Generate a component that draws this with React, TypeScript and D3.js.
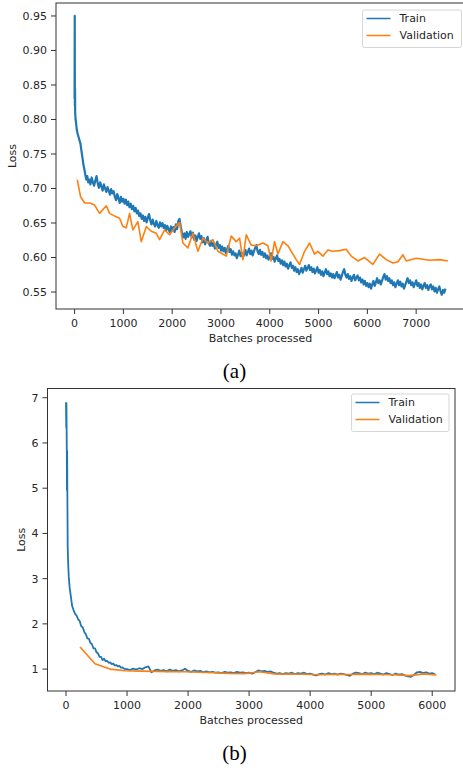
import React from 'react';
import * as d3 from 'd3';

const TRAIN_COLOR = '#1f77b4';
const VAL_COLOR = '#ff7f0e';
const FONT = 'DejaVu Sans, sans-serif';

// ---- panel (a) ----
// first few hundred batches, read point by point
const trainAHeadX = [0, 3, 6, 9, 12, 20, 30, 45, 60, 80, 100, 120, 140, 160, 180, 200, 220, 240, 260, 280];
const trainAHeadY = [0.83, 0.95, 0.82, 0.845, 0.81, 0.8, 0.795, 0.785, 0.78, 0.775, 0.77, 0.765, 0.755, 0.745, 0.735, 0.728, 0.72, 0.713, 0.718, 0.709];
// then one value every 25 batches from 300 on (one row = 500 batches)
const trainAStart = 300;
const trainAStep = 25;
const trainALoss = [
  0.713, 0.706, 0.716, 0.709, 0.704, 0.712, 0.718, 0.707, 0.701, 0.709, 0.703, 0.697, 0.706, 0.7, 0.695, 0.702, 0.697, 0.691, 0.699, 0.693,
  0.696, 0.688, 0.683, 0.692, 0.686, 0.679, 0.688, 0.681, 0.685, 0.678, 0.684, 0.676, 0.681, 0.673, 0.678, 0.67, 0.675, 0.667, 0.672, 0.664,
  0.668, 0.66, 0.664, 0.656, 0.661, 0.653, 0.659, 0.651, 0.657, 0.663, 0.654, 0.648, 0.655, 0.649, 0.645, 0.653, 0.647, 0.643, 0.651, 0.645,
  0.65, 0.643, 0.647, 0.639, 0.646, 0.641, 0.637, 0.645, 0.639, 0.644, 0.637, 0.648, 0.641, 0.653, 0.656, 0.645, 0.636, 0.629, 0.635, 0.627,
  0.637, 0.63, 0.634, 0.638, 0.629, 0.636, 0.626, 0.632, 0.624, 0.63, 0.635, 0.627, 0.631, 0.622, 0.628, 0.619, 0.625, 0.63, 0.621, 0.617,
  0.624, 0.617, 0.621, 0.613, 0.619, 0.623, 0.614, 0.618, 0.61, 0.616, 0.609, 0.614, 0.606, 0.612, 0.617, 0.608, 0.612, 0.604, 0.609, 0.603,
  0.606, 0.599, 0.604, 0.61, 0.602, 0.607, 0.6, 0.605, 0.611, 0.603, 0.608, 0.613, 0.605, 0.61, 0.603, 0.609, 0.614, 0.618, 0.609, 0.605,
  0.611, 0.604, 0.608, 0.601, 0.606, 0.599, 0.603, 0.597, 0.602, 0.606, 0.598, 0.601, 0.594, 0.599, 0.603, 0.595, 0.598, 0.591, 0.596, 0.589,
  0.594, 0.587, 0.591, 0.584, 0.589, 0.593, 0.585, 0.588, 0.581, 0.586, 0.579, 0.583, 0.576, 0.58, 0.585, 0.578, 0.583, 0.588, 0.581, 0.585,
  0.589, 0.582, 0.586, 0.579, 0.584, 0.577, 0.581, 0.586, 0.578, 0.582, 0.575, 0.58, 0.573, 0.578, 0.583, 0.576, 0.58, 0.573, 0.577, 0.571,
  0.576, 0.57, 0.574, 0.579, 0.571, 0.575, 0.568, 0.573, 0.579, 0.583, 0.575, 0.571, 0.576, 0.569, 0.573, 0.566, 0.571, 0.575, 0.567, 0.571,
  0.574, 0.567, 0.571, 0.564, 0.568, 0.561, 0.566, 0.559, 0.563, 0.557, 0.562, 0.555, 0.561, 0.566, 0.559, 0.564, 0.57, 0.563, 0.567, 0.561,
  0.566, 0.572, 0.576, 0.568, 0.573, 0.566, 0.57, 0.563, 0.567, 0.56, 0.564, 0.557, 0.562, 0.567, 0.56, 0.565, 0.558, 0.562, 0.555, 0.56,
  0.565, 0.57, 0.563, 0.567, 0.56, 0.564, 0.557, 0.562, 0.567, 0.559, 0.563, 0.556, 0.561, 0.554, 0.559, 0.563, 0.556, 0.56, 0.553, 0.558,
  0.561, 0.554, 0.558, 0.551, 0.556, 0.549, 0.554, 0.558, 0.551, 0.546, 0.553, 0.549, 0.555,
];
const valAX = [
  55, 123, 205, 307, 410, 512, 650, 717, 820, 922, 990, 1059, 1127, 1195, 1298,
  1366, 1470, 1571, 1674, 1742, 1844, 1947, 2049, 2152, 2220, 2322, 2425, 2527, 2630, 2732,
  2834, 2937, 3108, 3210, 3313, 3381, 3449, 3518, 3620, 3722, 3859, 3961, 4030, 4098, 4167,
  4270, 4372, 4440, 4542, 4611, 4713, 4816, 4918, 4986, 5089, 5191, 5293, 5430, 5566, 5669,
  5806, 5942, 6113, 6250, 6387, 6523, 6626, 6729, 6797, 7002, 7275, 7480, 7650,
];
const valAY = [
  0.713, 0.688, 0.679, 0.679, 0.676, 0.664, 0.675, 0.664, 0.66, 0.657, 0.645, 0.643, 0.664, 0.64, 0.652,
  0.623, 0.645, 0.638, 0.635, 0.626, 0.64, 0.633, 0.643, 0.651, 0.621, 0.614, 0.635, 0.609, 0.628, 0.621,
  0.626, 0.609, 0.602, 0.631, 0.623, 0.628, 0.597, 0.633, 0.618, 0.617, 0.621, 0.617, 0.595, 0.623, 0.605,
  0.623, 0.617, 0.609, 0.597, 0.59, 0.609, 0.621, 0.605, 0.609, 0.602, 0.611, 0.609, 0.61, 0.612, 0.602,
  0.595, 0.6, 0.59, 0.605, 0.597, 0.592, 0.594, 0.604, 0.595, 0.599, 0.596, 0.597, 0.595,
];
const ticksAX = [0, 1000, 2000, 3000, 4000, 5000, 6000, 7000];
const ticksAY = [0.55, 0.6, 0.65, 0.7, 0.75, 0.8, 0.85, 0.9, 0.95];

// ---- panel (b) ----
const trainBHeadX = [
  0, 4, 7, 10, 13, 16, 19, 22, 28, 35, 45, 60, 80, 100, 125, 150, 175, 200, 225, 250,
  275, 300, 325, 350, 375, 400, 425, 450, 475, 500, 525, 550, 575, 600, 625, 650, 675, 700,
  725, 750, 775, 800, 825, 850, 875, 900, 925, 950, 975,
];
const trainBHeadY = [
  6.9, 6.35, 6.88, 6.4, 5.85, 4.95, 5.82, 5.0, 3.7, 3.35, 3.05, 2.8, 2.6, 2.4, 2.3, 2.22, 2.18, 2.1, 2.06, 1.95,
  1.92, 1.82, 1.77, 1.68, 1.67, 1.58, 1.55, 1.46, 1.46, 1.37, 1.35, 1.27, 1.27, 1.2, 1.23, 1.17, 1.18, 1.14,
  1.15, 1.11, 1.12, 1.08, 1.09, 1.06, 1.07, 1.03, 1.04, 1.01, 1.0,
];
const trainBStart = 1000;
const trainBStep = 50;
const trainBLoss = [
  1.0, 0.98, 1.01, 0.99, 1.02, 1.0, 1.04, 1.06, 0.93, 0.97,
  0.99, 0.96, 0.98, 0.95, 0.99, 0.96, 0.98, 0.95, 0.97, 1.01,
  0.96, 0.94, 0.97, 0.95, 0.96, 0.93, 0.95, 0.93, 0.94, 0.92,
  0.93, 0.91, 0.94, 0.92, 0.93, 0.91, 0.94, 0.92, 0.93, 0.91,
  0.92, 0.9, 0.93, 0.97, 0.95, 0.96, 0.94, 0.95, 0.92, 0.9,
  0.91, 0.89, 0.91, 0.9, 0.92, 0.89, 0.91, 0.9, 0.92, 0.89,
  0.9, 0.88, 0.86, 0.89, 0.9, 0.88, 0.91, 0.89, 0.9, 0.88,
  0.9, 0.89, 0.87, 0.85, 0.9, 0.92, 0.91, 0.89, 0.92, 0.9,
  0.91, 0.89, 0.92, 0.9, 0.88, 0.91, 0.89, 0.87, 0.9, 0.88,
  0.89, 0.86, 0.84, 0.83, 0.87, 0.93, 0.94, 0.91, 0.93, 0.9,
  0.91, 0.88,
];
const valBX = [230, 475, 720, 965, 1210, 1455, 1700, 1945, 2190, 2435, 2680, 2925, 3170, 3415, 3660, 3905, 4150, 4395, 4640, 4885, 5130, 5375, 5620, 5865, 6070];
const valBY = [1.49, 1.12, 1.0, 0.965, 0.955, 0.95, 0.945, 0.94, 0.93, 0.92, 0.905, 0.9, 0.94, 0.895, 0.89, 0.885, 0.875, 0.885, 0.88, 0.89, 0.88, 0.875, 0.855, 0.895, 0.87];
const ticksBX = [0, 1000, 2000, 3000, 4000, 5000, 6000];
const ticksBY = [1, 2, 3, 4, 5, 6, 7];

type Pt = [number, number];

function zipPts(xs: number[], ys: number[]): Pt[] {
  return xs.map((x, i) => [x, ys[i]] as Pt);
}

function stepPts(start: number, step: number, ys: number[]): Pt[] {
  return ys.map((y, i) => [start + i * step, y] as Pt);
}

function Panel(props: any) {
  const { box, xDomain, yDomain, xTicks, yTicks, yFormat, train, val, trainWidth, legend, caption, captionY, yLabelX } = props;
  const x = d3.scaleLinear().domain(xDomain).range([box.left, box.right]);
  const y = d3.scaleLinear().domain(yDomain).range([box.bottom, box.top]);
  const line = d3.line<Pt>().x(d => x(d[0])).y(d => y(d[1]));
  const cx = (box.left + box.right) / 2;
  const cy = (box.top + box.bottom) / 2;

  return (
    <g>
      <defs>
        <clipPath id={'clip-' + caption}>
          <rect x={box.left} y={box.top} width={box.right - box.left} height={box.bottom - box.top} />
        </clipPath>
      </defs>
      <g clipPath={`url(#clip-${caption})`}>
        <path d={line(train) || ''} fill="none" stroke={TRAIN_COLOR} strokeWidth={trainWidth} strokeLinejoin="round" />
        <path d={line(val) || ''} fill="none" stroke={VAL_COLOR} strokeWidth={1.6} strokeLinejoin="round" />
      </g>
      <rect x={box.left} y={box.top} width={box.right - box.left} height={box.bottom - box.top}
        fill="none" stroke="#333" strokeWidth={1} />

      {xTicks.map((t: number) => (
        <g key={'x' + t} transform={`translate(${x(t)},${box.bottom})`}>
          <line y2={5} stroke="#333" strokeWidth={1} />
          <text y={18} textAnchor="middle" fontSize={11} fill="#262626" fontFamily={FONT}>{t}</text>
        </g>
      ))}
      {yTicks.map((t: number) => (
        <g key={'y' + t} transform={`translate(${box.left},${y(t)})`}>
          <line x2={-5} stroke="#333" strokeWidth={1} />
          <text x={-9} dy="0.35em" textAnchor="end" fontSize={11} fill="#262626" fontFamily={FONT}>{yFormat(t)}</text>
        </g>
      ))}
      <text x={cx} y={box.bottom + 33} textAnchor="middle" fontSize={11} fill="#262626" fontFamily={FONT}>Batches processed</text>
      <text transform={`translate(${yLabelX},${cy}) rotate(-90)`} textAnchor="middle" dy="0.35em" fontSize={11}
        fill="#262626" fontFamily={FONT}>Loss</text>

      <g transform={`translate(${legend.x},${legend.y})`}>
        <rect width={legend.w} height={37.5} rx={2} fill="#fff" fillOpacity={0.8} stroke="#d6d6d6" strokeWidth={1} />
        <line x1={4} x2={28} y1={8.5} y2={8.5} stroke={TRAIN_COLOR} strokeWidth={1.5} />
        <line x1={4} x2={28} y1={25.5} y2={25.5} stroke={VAL_COLOR} strokeWidth={1.5} />
        <text x={37} y={8.5} dy="0.35em" fontSize={11} fill="#262626" fontFamily={FONT}>Train</text>
        <text x={37} y={25.5} dy="0.35em" fontSize={11} fill="#262626" fontFamily={FONT}>Validation</text>
      </g>

      <text x={234.5} y={captionY} textAnchor="middle" fontSize={21} fill="#000"
        fontFamily="Liberation Serif, Times New Roman, serif">({caption})</text>
    </g>
  );
}

export default function App() {
  const trainA = [...zipPts(trainAHeadX, trainAHeadY), ...stepPts(trainAStart, trainAStep, trainALoss)];
  const valA = zipPts(valAX, valAY);
  const trainB = [...zipPts(trainBHeadX, trainBHeadY), ...stepPts(trainBStart, trainBStep, trainBLoss)];
  const valB = zipPts(valBX, valBY);

  return (
    <svg width={463} height={770} style={{ position: 'absolute', left: 0, top: 0, background: '#fff' }}>
      <rect width={463} height={770} fill="#fff" />
      <Panel
        box={{ left: 56, right: 465, top: 3, bottom: 309 }}
        xDomain={[-381, 8001]}
        yDomain={[0.5254, 0.9688]}
        xTicks={ticksAX}
        yTicks={ticksAY}
        yFormat={(v: number) => v.toFixed(2)}
        train={trainA}
        val={valA}
        trainWidth={2.2}
        legend={{ x: 362.5, y: 10, w: 99 }}
        caption="a"
        captionY={378}
        yLabelX={12}
      />
      <Panel
        box={{ left: 47.5, right: 455, top: 388.5, bottom: 691 }}
        xDomain={[-303, 6373]}
        yDomain={[0.516, 7.204]}
        xTicks={ticksBX}
        yTicks={ticksBY}
        yFormat={(v: number) => String(v)}
        train={trainB}
        val={valB}
        trainWidth={1.8}
        legend={{ x: 351.5, y: 394, w: 97.5 }}
        caption="b"
        captionY={760}
        yLabelX={21}
      />
    </svg>
  );
}
